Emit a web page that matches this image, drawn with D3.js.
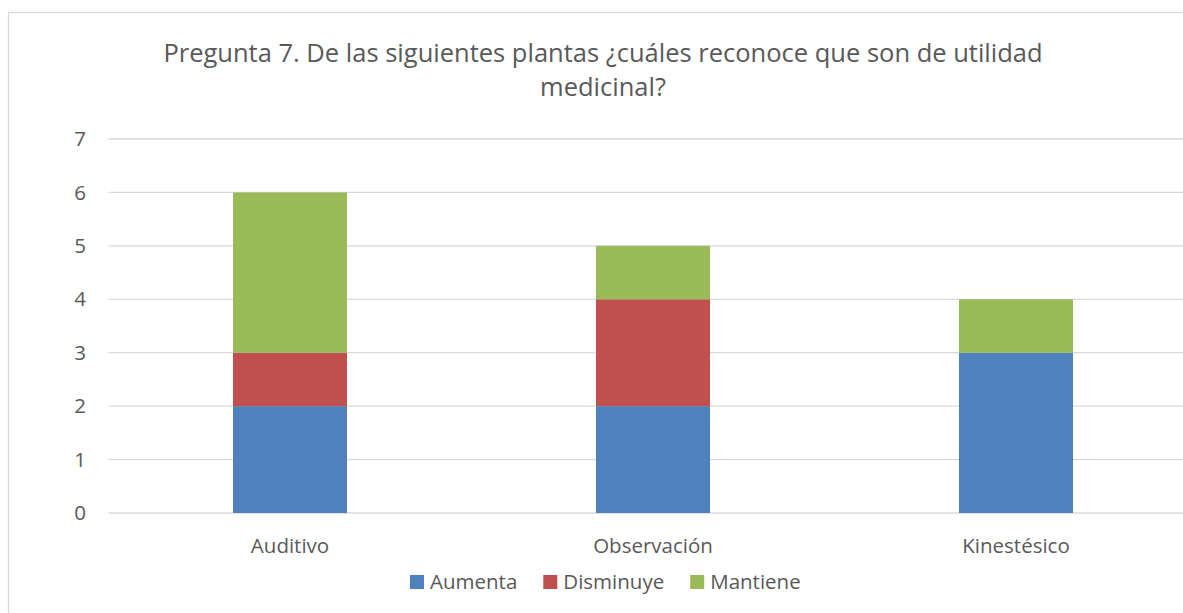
<!DOCTYPE html>
<html>
<head>
<meta charset="utf-8">
<script src="https://cdn.jsdelivr.net/npm/d3@7"></script>
<style>
  body { margin: 0; background: #fff; }
  text { font-family: "Open Sans", "Noto Sans", sans-serif; fill: #595959; }
</style>
</head>
<body>
<script>
var categories = ["Auditivo", "Observación", "Kinestésico"];
var seriesNames = ["Aumenta", "Disminuye", "Mantiene"];
var aumenta = [2, 2, 3];
var disminuye = [1, 2, 0];
var mantiene = [3, 1, 1];
var yTicks = [0, 1, 2, 3, 4, 5, 6, 7];
var colors = ["#4F81BD", "#C0504D", "#9BBB59"];
var titleLines = [
  "Pregunta 7. De las siguientes plantas ¿cuáles reconoce que son de utilidad",
  "medicinal?"
];

var width = 1183,
  height = 613,
  plotLeft = 108.5,
  plotRight = 1197.5,
  plotTop = 139,
  plotBottom = 513;

var table = categories.map(function (c, i) {
  return { cat: c, Aumenta: aumenta[i], Disminuye: disminuye[i], Mantiene: mantiene[i] };
});
var stacked = d3.stack().keys(seriesNames)(table);

var svg = d3
  .select("body")
  .append("svg")
  .attr("width", width)
  .attr("height", height);

// chart border
svg
  .append("rect")
  .attr("x", 8.5)
  .attr("y", 12.5)
  .attr("width", 1200)
  .attr("height", 700)
  .attr("fill", "none")
  .attr("stroke", "#D9D9D9")
  .attr("stroke-width", 1.3);

var x = d3.scaleBand().domain(categories).range([plotLeft, plotRight]).paddingInner(0).paddingOuter(0);
var y = d3.scaleLinear().domain([0, 7]).range([plotBottom, plotTop]);
var barWidth = x.step() * 0.314;

// gridlines
svg
  .append("g")
  .selectAll("line")
  .data(yTicks)
  .enter()
  .append("line")
  .attr("x1", plotLeft)
  .attr("x2", plotRight)
  .attr("y1", (d) => y(d))
  .attr("y2", (d) => y(d))
  .attr("stroke", "#D9D9D9")
  .attr("stroke-width", 1.3);

// y tick labels
svg
  .append("g")
  .selectAll("text")
  .data(yTicks)
  .enter()
  .append("text")
  .attr("x", 86)
  .attr("y", (d) => y(d))
  .attr("dy", "0.35em")
  .attr("text-anchor", "end")
  .style("font-size", "20.5px")
  .text((d) => d);

// bars
svg
  .append("g")
  .selectAll("g")
  .data(stacked)
  .enter()
  .append("g")
  .attr("fill", (d, i) => colors[i])
  .selectAll("rect")
  .data((d) => d.filter((p) => p[1] > p[0]))
  .enter()
  .append("rect")
  .attr("x", (d) => x(d.data.cat) + x.bandwidth() / 2 - barWidth / 2)
  .attr("y", (d) => y(d[1]))
  .attr("width", barWidth)
  .attr("height", (d) => y(d[0]) - y(d[1]));

// category labels
svg
  .append("g")
  .selectAll("text")
  .data(categories)
  .enter()
  .append("text")
  .attr("x", (d) => x(d) + x.bandwidth() / 2)
  .attr("y", 546)
  .attr("dy", "0.35em")
  .attr("text-anchor", "middle")
  .style("font-size", "20.5px")
  .text((d) => d);

// title
svg
  .append("g")
  .selectAll("text")
  .data(titleLines)
  .enter()
  .append("text")
  .attr("x", 603)
  .attr("y", (d, i) => 53 + i * 34)
  .attr("dy", "0.35em")
  .attr("text-anchor", "middle")
  .style("font-size", "25.5px")
  .text((d) => d);

// legend
var legend = svg.append("g");
var lx = 410;
seriesNames.forEach(function (name, i) {
  legend
    .append("rect")
    .attr("x", lx)
    .attr("y", 575)
    .attr("width", 14)
    .attr("height", 14)
    .attr("fill", colors[i]);
  var t = legend
    .append("text")
    .attr("x", lx + 20)
    .attr("y", 582)
    .attr("dy", "0.35em")
    .style("font-size", "20.5px")
    .text(name);
  lx += 20 + t.node().getComputedTextLength() + 26;
});
</script>
</body>
</html>
